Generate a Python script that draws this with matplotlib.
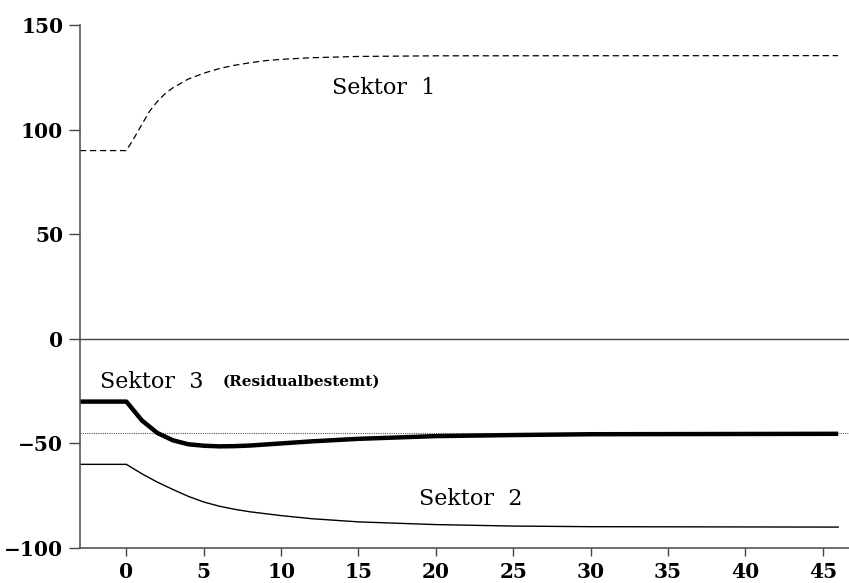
import matplotlib
matplotlib.use("Agg")
import matplotlib.pyplot as plt

# --- data ---
x_s1 = [-3, 0, 0.5, 1, 1.5, 2, 2.5, 3, 4, 5, 6, 7, 8, 9, 10, 12, 15, 20, 46]
sektor1 = [90, 90, 96, 102.5, 108.8, 113.5, 117.2, 120, 124.2, 127, 129.2, 130.8, 132, 133, 133.6, 134.4, 135, 135.3, 135.4]

x_s3 = [-3, 0, 1, 2, 3, 4, 5, 6, 7, 8, 10, 12, 15, 20, 25, 30, 46]
sektor3 = [-30, -30, -39, -45, -48.5, -50.4, -51.1, -51.4, -51.3, -51.0, -50.0, -49.0, -47.8, -46.5, -46.0, -45.6, -45.4]

x_s2 = [-3, 0, 1, 2, 3, 4, 5, 6, 7, 8, 10, 12, 15, 20, 25, 30, 46]
sektor2 = [-60, -60, -64.5, -68.5, -72, -75.3, -78, -80, -81.5, -82.7, -84.5, -86, -87.5, -88.8, -89.5, -89.8, -90]

ref_level = -45
xticks = [0, 5, 10, 15, 20, 25, 30, 35, 40, 45]
yticks = [-100, -50, 0, 50, 100, 150]

plt.rcParams['font.family'] = ['DejaVu Serif']

fig = plt.figure(figsize=(8.49, 5.83), dpi=100)
ax = fig.add_axes([0.0942, 0.06, 0.9058, 0.897])

ax.axhline(0, color='#444444', linewidth=1.0)
ax.axhline(ref_level, color='#555555', linewidth=0.8, linestyle=(0, (1, 1)))

ax.plot(x_s1, sektor1, color='black', linewidth=0.9, linestyle=(0, (5, 3)))
ax.plot(x_s3, sektor3, color='black', linewidth=3.2, solid_capstyle='butt')
ax.plot(x_s2, sektor2, color='black', linewidth=1.0)

ax.text(13.3, 119.8, 'Sektor  1', fontsize=16, va='center', ha='left')
ax.text(18.9, -76.6, 'Sektor  2', fontsize=16, va='center', ha='left')
ax.text(-1.7, -20.5, 'Sektor  3', fontsize=16, va='center', ha='left')
ax.text(6.2, -20.5, '(Residualbestemt)', fontsize=11, fontweight='bold', va='center', ha='left')

ax.set_xlim(-3, 46.7)
ax.set_ylim(-100, 150)
ax.set_xticks(xticks)
ax.set_yticks(yticks)
ax.set_xticklabels([str(t) for t in xticks], fontsize=14.5, fontweight='bold')
ax.set_yticklabels([str(t).replace('-', '\u2212') for t in yticks], fontsize=14.5, fontweight='bold')
ax.tick_params(axis='y', direction='out', length=8, width=1, color='#444444', pad=4)
ax.tick_params(axis='x', direction='out', length=6, width=1, color='#444444', pad=4)

ax.spines['top'].set_visible(False)
ax.spines['right'].set_visible(False)
for s in ['left', 'bottom']:
    ax.spines[s].set_color('#555555')
    ax.spines[s].set_linewidth(1.2)

fig.savefig('out.png', dpi=100)
